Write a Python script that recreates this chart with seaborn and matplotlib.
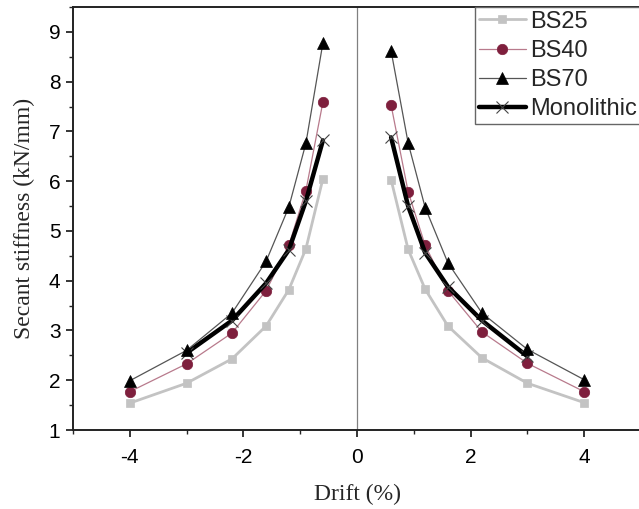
import matplotlib
matplotlib.use("Agg")
import matplotlib.pyplot as plt
import seaborn as sns
import numpy as np
from matplotlib.ticker import MultipleLocator

drift_neg = [-4, -3, -2.2, -1.6, -1.2, -0.9, -0.6]
drift_pos = [0.6, 0.9, 1.2, 1.6, 2.2, 3, 4]
mono_drift_neg = [-3, -2.2, -1.6, -1.2, -0.9, -0.6]
mono_drift_pos = [0.6, 0.9, 1.2, 1.6, 2.2, 3]

bs25_neg = [1.54, 1.94, 2.43, 3.09, 3.82, 4.64, 6.05]
bs25_pos = [6.03, 4.63, 3.83, 3.09, 2.45, 1.94, 1.55]
bs40_neg = [1.77, 2.33, 2.95, 3.80, 4.71, 5.81, 7.59]
bs40_pos = [7.53, 5.79, 4.71, 3.80, 2.97, 2.34, 1.77]
bs70_neg = [1.99, 2.60, 3.35, 4.39, 5.48, 6.76, 8.78]
bs70_pos = [8.62, 6.77, 5.47, 4.36, 3.35, 2.62, 2.01]
mono_neg = [2.55, 3.20, 3.95, 4.62, 5.60, 6.82]
mono_pos = [6.88, 5.50, 4.56, 3.88, 3.20, 2.48]

series_names = ["BS25", "BS40", "BS70", "Monolithic"]

sns.set_style("ticks")
plt.rcParams["font.family"] = ["Liberation Sans", "DejaVu Sans"]

fig = plt.figure(figsize=(6.39, 5.09), dpi=100)
ax = fig.add_axes([73 / 639, 1 - 430 / 509, 568 / 639, 423 / 509])

ax.axvline(0, color="#808080", lw=0.9, zorder=1)

styles = {
    "BS25": dict(color="#c3c3c3", lw=2.0, marker="s", ms=5.8, mfc="#c3c3c3", mec="#c3c3c3"),
    "BS40": dict(color="#b87a8c", lw=0.9, marker="o", ms=7.5, mfc="#7e1f3d", mec="#7e1f3d"),
    "BS70": dict(color="#555555", lw=0.9, marker="^", ms=8, mfc="black", mec="black"),
    "Monolithic": dict(color="black", lw=3.2, marker="x", ms=8, mfc="none", mec="#444444", mew=0.8),
}
data = {
    "BS25": [(drift_neg, bs25_neg), (drift_pos, bs25_pos)],
    "BS40": [(drift_neg, bs40_neg), (drift_pos, bs40_pos)],
    "BS70": [(drift_neg, bs70_neg), (drift_pos, bs70_pos)],
    "Monolithic": [(mono_drift_neg, mono_neg), (mono_drift_pos, mono_pos)],
}
zorders = {"BS25": 3, "BS40": 4, "Monolithic": 5, "BS70": 6}

handles = []
for name in series_names:
    st = styles[name]
    for i, (xs, ys) in enumerate(data[name]):
        sns.lineplot(x=xs, y=ys, ax=ax, sort=False, estimator=None,
                     color=st["color"], lw=st["lw"], marker=st["marker"],
                     markersize=st["ms"], markerfacecolor=st["mfc"],
                     markeredgecolor=st["mec"], markeredgewidth=st.get("mew", 0.5),
                     zorder=zorders[name], label=None)
    handles.append(matplotlib.lines.Line2D([], [], color=st["color"], lw=st["lw"],
                                           marker=st["marker"], markersize=st["ms"],
                                           markerfacecolor=st["mfc"], markeredgecolor=st["mec"],
                                           markeredgewidth=st.get("mew", 0.5), label=name))

ax.set_xlim(-5, 5)
ax.set_ylim(1, 9.5)
ax.set_xticks([-4, -2, 0, 2, 4])
ax.set_yticks([1, 2, 3, 4, 5, 6, 7, 8, 9])
ax.xaxis.set_minor_locator(MultipleLocator(1))
ax.yaxis.set_minor_locator(MultipleLocator(0.5))
ax.tick_params(which="major", direction="out", length=5, width=1.1, labelsize=15, colors="black")
ax.tick_params(axis="x", which="major", pad=8)
ax.tick_params(axis="y", which="major", pad=4)
ax.tick_params(which="minor", direction="out", length=3, width=1.0)
ax.set_xticklabels(["-4", "-2", "0", "2", "4"])
for s in ax.spines.values():
    s.set_linewidth(1.4)
    s.set_color("#222222")
    s.set_visible(True)

ax.set_xlabel("Drift (%)", fontsize=17, family=["Liberation Serif"], labelpad=12)
ax.set_ylabel("Secant stiffness (kN/mm)", fontsize=17, family=["Liberation Serif"], labelpad=10)

leg = ax.legend(handles=handles, loc="upper right", borderaxespad=0, fontsize=17,
                handlelength=2.0, handletextpad=0.2, labelspacing=0.31,
                frameon=True, fancybox=False, edgecolor="#666666", framealpha=1,
                borderpad=0.15)
leg.get_frame().set_linewidth(1.0)

fig.savefig("out.png", dpi=100)
